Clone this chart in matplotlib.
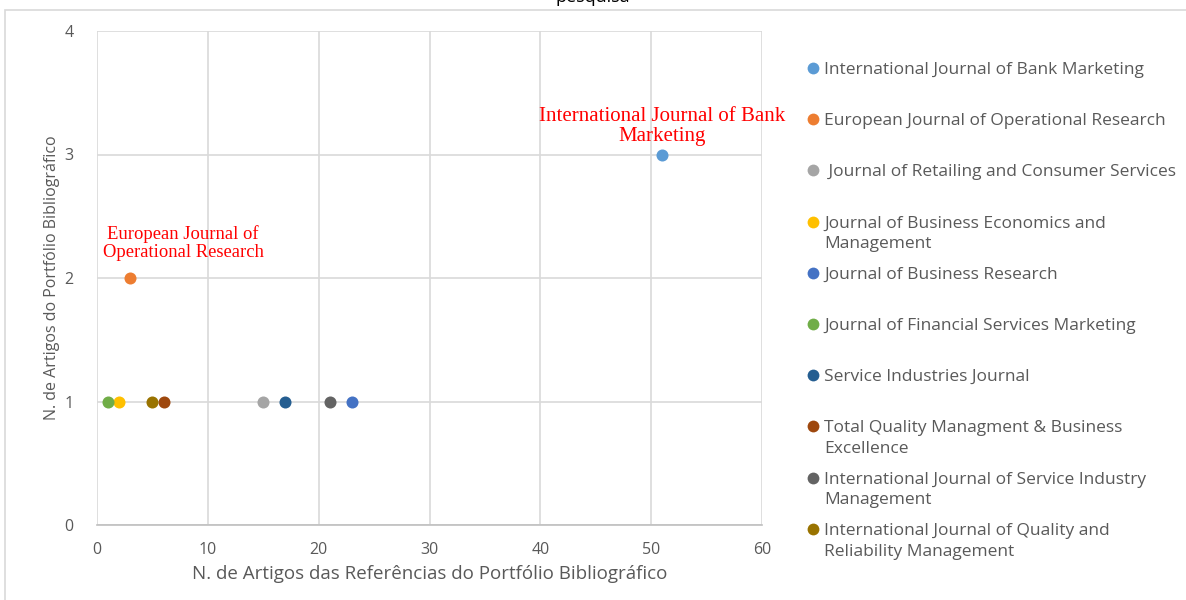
import matplotlib.pyplot as plt
from matplotlib.lines import Line2D
from matplotlib.patches import Rectangle

# dados
journals = [
    'International Journal of Bank Marketing',
    'European Journal of Operational Research',
    ' Journal of Retailing and Consumer Services',
    'Journal of Business Economics and\nManagement',
    'Journal of Business Research',
    'Journal of Financial Services Marketing',
    'Service Industries Journal',
    'Total Quality Managment & Business\nExcellence',
    'International Journal of Service Industry\nManagement',
    'International Journal of Quality and\nReliability Management',
]
ref_articles = [51, 3, 15, 2, 23, 1, 17, 6, 21, 5]
portfolio_articles = [3, 2, 1, 1, 1, 1, 1, 1, 1, 1]
colors = ['#5B9BD5', '#ED7D31', '#A5A5A5', '#FFC000', '#4472C4',
          '#70AD47', '#255E91', '#9E480E', '#636363', '#997300']

fig = plt.figure(figsize=(11.86, 6), dpi=100)
ax = fig.add_axes([97/1186, 75/600, 665/1186, 494/600])

for x, y, c in zip(ref_articles, portfolio_articles, colors):
    ax.scatter(x, y, s=75, color=c, zorder=3, linewidths=0)

ax.set_xlim(0, 60)
ax.set_ylim(0, 4)
ax.set_xticks(range(0, 61, 10))
ax.set_yticks(range(0, 5))
ax.grid(True, color='#D9D9D9', linewidth=1.2)
ax.set_axisbelow(True)
for s in ['top', 'right', 'left']:
    ax.spines[s].set_visible(False)
ax.spines['bottom'].set_color('#BFBFBF')
ax.spines['bottom'].set_linewidth(1.2)
ax.tick_params(length=0, colors='#595959', labelsize=11.5, pad=12)
ax.tick_params(axis='y', pad=17)
for lbl in ax.get_xticklabels() + ax.get_yticklabels():
    lbl.set_fontfamily('Open Sans')

ax.set_xlabel('N. de Artigos das Referências do Portfólio Bibliográfico',
              fontsize=13.5, color='#595959', family='Open Sans', labelpad=5)
ax.set_ylabel('N. de Artigos do Portfólio Bibliográfico',
              fontsize=11.5, color='#595959', family='Open Sans', labelpad=3)

# rotulos em vermelho
ax.annotate('International Journal of Bank\nMarketing', (ref_articles[0], portfolio_articles[0]),
            xytext=(0, 6), textcoords='offset points', ha='center', va='bottom',
            color='red', fontsize=15, family='Liberation Serif', linespacing=1.1)
ax.annotate('European Journal of\nOperational Research', (ref_articles[1], portfolio_articles[1]),
            xytext=(38, 12), textcoords='offset points', ha='center', va='bottom',
            color='red', fontsize=13.4, family='Liberation Serif', linespacing=1.1)

# legenda manual
for i, (name, c) in enumerate(zip(journals, colors)):
    ypix = 68 + i * 51.2
    yf = 1 - ypix / 600
    fig.add_artist(Line2D([813/1186], [yf], marker='o', markersize=8.5, color=c,
                          markeredgewidth=0, transform=fig.transFigure))
    fig.text(824/1186, yf + 6/600, name, fontsize=12.5, color='#595959',
             family='Open Sans', va='top', ha='left', linespacing=1.4)

# titulo cortado e moldura
fig.text(0.5, 1.005, 'pesquisa', ha='center', va='center', fontsize=13,
         family='Open Sans', color='black')
fig.add_artist(Rectangle((5/1186, -0.01), 1.1, 1 - 10/600 + 0.01, fill=False,
                         edgecolor='#D9D9D9', linewidth=1.2, transform=fig.transFigure))

fig.savefig('out.png', dpi=100)
